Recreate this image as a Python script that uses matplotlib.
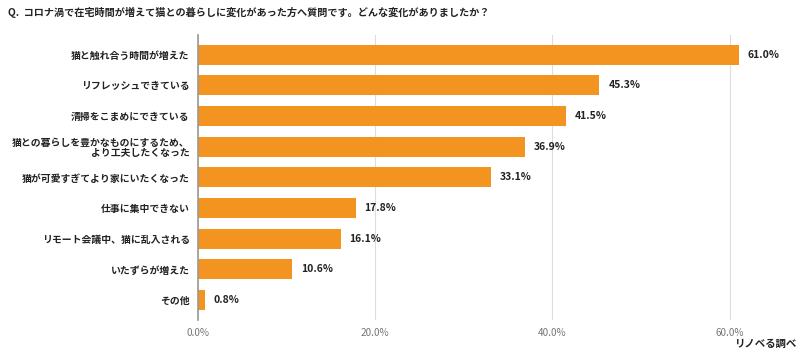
import matplotlib
matplotlib.use('Agg')
from matplotlib import pyplot as plt

plt.rcParams['font.family'] = ['Noto Sans CJK JP', 'DejaVu Sans']

TITLE = 'Q.  コロナ渦で在宅時間が増えて猫との暮らしに変化があった方へ質問です。どんな変化がありましたか？'
SOURCE = 'リノベる調べ'

categories = ['猫と触れ合う時間が増えた',
              'リフレッシュできている',
              '清掃をこまめにできている',
              '猫との暮らしを豊かなものにするため、\nより工夫したくなった',
              '猫が可愛すぎてより家にいたくなった',
              '仕事に集中できない',
              'リモート会議中、猫に乱入される',
              'いたずらが増えた',
              'その他']
values = [61.0, 45.3, 41.5, 36.9, 33.1, 17.8, 16.1, 10.6, 0.8]
xticks = [0, 20, 40, 60]


def main():
    fig = plt.figure(figsize=(8, 3.52), dpi=100)
    ax = fig.add_axes([0.2475, 0.091, 0.74, 0.81])

    y = list(range(len(categories)))
    ax.barh(y, values, height=0.65, color='#F39320', zorder=3)

    for yi, v in zip(y, values):
        ax.text(v + 1.0, yi, f'{v:.1f}%', va='center', ha='left',
                fontsize=7.5, fontweight='bold', color='#222222')

    ax.set_yticks(y)
    ax.set_yticklabels(categories, fontsize=7.1, fontweight='bold',
                       color='#222222', linespacing=1.0)
    ax.set_ylim(8.65, -0.65)
    ax.set_xlim(0, 66.8)
    ax.set_xticks(xticks)
    ax.set_xticklabels([f'{t:.1f}%' for t in xticks], fontsize=7.2,
                       color='#777777')
    ax.tick_params(axis='both', length=0)
    ax.tick_params(axis='y', pad=6)
    ax.tick_params(axis='x', pad=6)

    ax.grid(axis='x', color='#dddddd', linewidth=0.8, zorder=0)
    for s in ['top', 'right', 'bottom']:
        ax.spines[s].set_visible(False)
    ax.spines['left'].set_color('#999999')
    ax.spines['left'].set_linewidth(1.2)
    ax.spines['left'].set_zorder(4)

    fig.text(0.01, 0.965, TITLE, ha='left', va='center', fontsize=7.3,
             fontweight='bold', color='#222222')
    fig.text(0.997, 0.022, SOURCE, ha='right', va='center', fontsize=7.5,
             fontweight='bold', color='#222222')

    fig.savefig('out.png', dpi=100)


if __name__ == '__main__':
    main()
